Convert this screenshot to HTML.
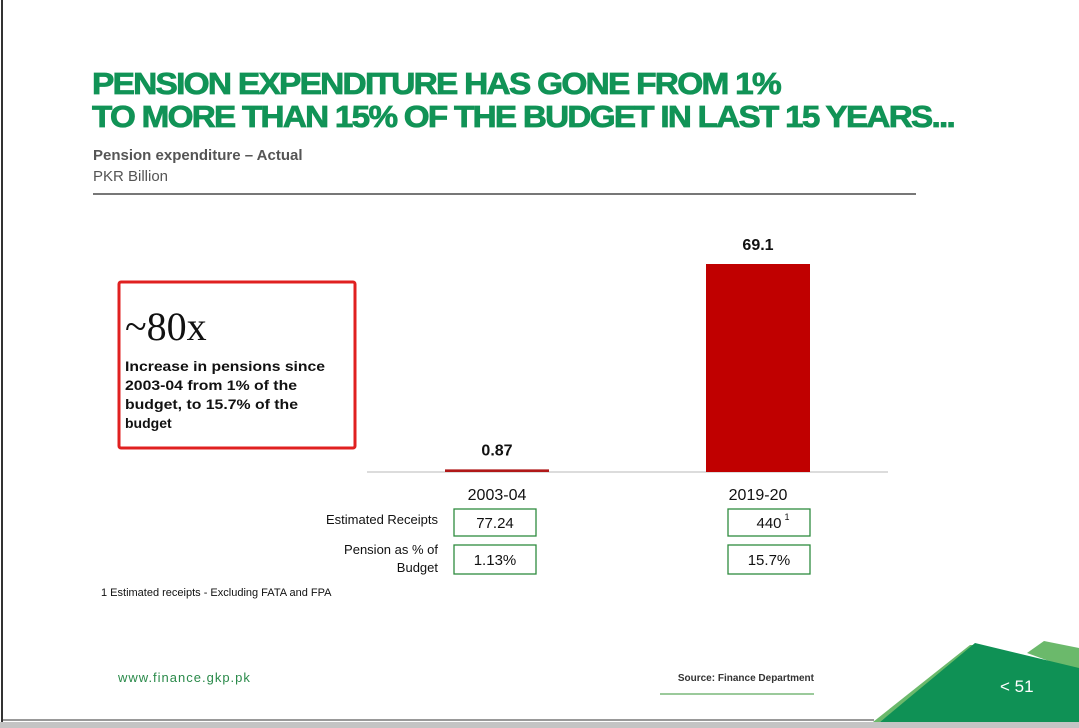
<!DOCTYPE html>
<html><head><meta charset="utf-8"><style>
html,body{margin:0;padding:0;width:1079px;height:728px;overflow:hidden;background:#fff;font-family:"Liberation Sans",Arial,sans-serif}
</style></head><body>
<svg id="s" width="1079" height="728" viewBox="0 0 1079 728" xmlns="http://www.w3.org/2000/svg">
<rect x="0" y="0" width="1079" height="728" fill="#fff"/>
<line x1="2" y1="0" x2="2" y2="722" stroke="#333" stroke-width="2"/>
<rect x="0" y="722" width="1079" height="6" fill="#c4c4c4"/>
<g font-weight="bold" fill="#119356" stroke="#119356" stroke-width="0.8" font-size="31" letter-spacing="-1.6">
<text x="92" y="94" textLength="688" lengthAdjust="spacingAndGlyphs">PENSION EXPENDITURE HAS GONE FROM 1%</text>
<text x="92" y="127" textLength="862" lengthAdjust="spacingAndGlyphs">TO MORE THAN 15% OF THE BUDGET IN LAST 15 YEARS...</text>
</g>
<text x="93" y="160" font-size="15" font-weight="bold" fill="#555">Pension expenditure – Actual</text>
<text x="93" y="181" font-size="15" fill="#555">PKR Billion</text>
<line x1="93" y1="194" x2="916" y2="194" stroke="#777" stroke-width="2"/>
<rect x="119" y="282" width="236" height="166" fill="none" stroke="#e02020" stroke-width="3" rx="2"/>
<text x="125" y="340" font-family="Liberation Serif,serif" font-size="40" fill="#111">~80x</text>
<g font-size="14" font-weight="bold" fill="#111">
<text x="125" y="371" textLength="200" lengthAdjust="spacingAndGlyphs">Increase in pensions since</text>
<text x="125" y="390" textLength="172" lengthAdjust="spacingAndGlyphs">2003-04 from 1% of the</text>
<text x="125" y="409" textLength="173" lengthAdjust="spacingAndGlyphs">budget, to 15.7% of the</text>
<text x="125" y="428">budget</text>
</g>
<g id="chart"></g>
<g font-size="13" fill="#111" text-anchor="end">
<text x="438" y="524">Estimated Receipts</text>
<text x="438" y="554">Pension as % of</text>
<text x="438" y="572">Budget</text>
</g>
<g id="table" font-size="15" fill="#111" text-anchor="middle"></g>
<text x="101" y="596" font-size="11" fill="#111">1 Estimated receipts - Excluding FATA and FPA</text>
<text x="118" y="682" font-size="13" fill="#2a8a4a" letter-spacing="1">www.finance.gkp.pk</text>
<text x="814" y="681" font-size="10" font-weight="bold" fill="#333" text-anchor="end">Source: Finance Department</text>
<line x1="660" y1="694" x2="814" y2="694" stroke="#7ab87a" stroke-width="1.5"/>
<line x1="3" y1="720" x2="874" y2="720" stroke="#333" stroke-width="1"/>
<polygon points="1027,653 1044,641 1079,648 1079,672" fill="#6bb96b"/>
<polygon points="873,722 970,645 976,645 880,722" fill="#6bb96b"/>
<polygon points="880,722 975,643 1079,668 1079,722" fill="#0f9155"/>
<text x="1000" y="692" font-size="17" fill="#fff">&lt; 51</text>
</svg>
<script>
const categories=["2003-04","2019-20"];
const pension=[0.87,69.1];
const valueLabels=["0.87","69.1"];
const receipts=["77.24","440"];
const pctBudget=["1.13%","15.7%"];
const NS="http://www.w3.org/2000/svg";
const base=472, top0=264, maxV=69.1;
function y(v){return base-(v/maxV)*(base-top0);}
function xc(i){return 497+i*261;}
function tc(i){return 495+i*274;}
const bw=104;
const g=document.getElementById('chart');
function mk(tag,attrs,parent){const e=document.createElementNS(NS,tag);for(const k in attrs)e.setAttribute(k,attrs[k]);parent.appendChild(e);return e;}
const ax=mk('line',{x1:367,y1:base,x2:888,y2:base,stroke:'#d0d0d0','stroke-width':1.5},g);


categories.forEach((c,i)=>{
  const yy=y(pension[i]);
  const r=mk('rect',{x:xc(i)-bw/2,y:yy,width:bw,height:Math.max(base-yy,1),fill:i==0?'#b01818':'#c00000'},g);
  
  
  const t=mk('text',{x:xc(i),y:yy-14,'text-anchor':'middle','font-size':16,'font-weight':'bold',fill:'#111'},g);
  t.textContent=valueLabels[i];
  
  
  const l=mk('text',{x:xc(i),y:500,'text-anchor':'middle','font-size':16,fill:'#111'},g);
  l.textContent=c;
  
  
});
const tb=document.getElementById('table');
categories.forEach((c,i)=>{
  const cx=tc(i);
  const b1=mk('rect',{x:cx-41,y:509,width:82,height:27,fill:'#fff',stroke:'#2e8b3e','stroke-width':1.3},tb);
  
  
  const t1=mk('text',{x:cx,y:528},tb);
  t1.textContent=receipts[i];
  
  
  if(i==1){const s=mk('text',{x:cx+18,y:520,'font-size':9},tb);s.textContent='1';
    
    }
  const b2=mk('rect',{x:cx-41,y:545,width:82,height:29,fill:'#fff',stroke:'#2e8b3e','stroke-width':1.3},tb);
  
  
  const t2=mk('text',{x:cx,y:565},tb);
  t2.textContent=pctBudget[i];
  
  
});
</script>
</body></html>
